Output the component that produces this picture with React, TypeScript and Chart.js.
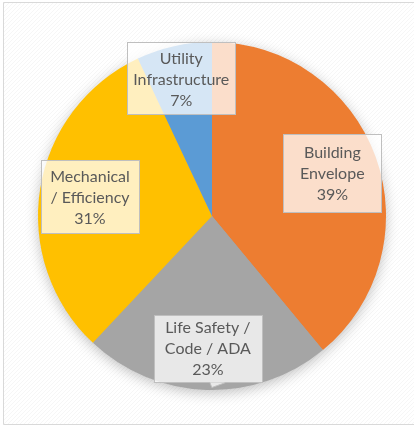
import React, { useEffect, useRef } from 'react';
import { Chart, registerables } from 'chart.js';

Chart.register(...registerables);

// ---- data ----
const categories = [
  'Building Envelope',
  'Life Safety / Code / ADA',
  'Mechanical / Efficiency',
  'Utility Infrastructure',
];
const labelLines = [
  ['Building', 'Envelope'],
  ['Life Safety /', 'Code / ADA'],
  ['Mechanical', '/ Efficiency'],
  ['Utility', 'Infrastructure'],
];
const values = [39, 23, 31, 7];

// ---- styles ----
const colors = ['#ED7D31', '#A5A5A5', '#FFC000', '#5B9BD5'];
const labelLayout = [
  { rf: 0.735, w: 98, h: 78 },
  { rf: 0.76, w: 108, h: 67 },
  { rf: 0.71, w: 98, h: 73 },
  { rf: 0.81, w: 108, h: 72 },
];
const FONT = '16px Lato, "Open Sans", sans-serif';
const TEXT_COLOR = '#595959';

const backgroundPlugin = {
  id: 'bgFrame',
  beforeDraw(chart: any) {
    const ctx = chart.ctx as CanvasRenderingContext2D;
    const { width, height } = chart;
    ctx.save();
    ctx.fillStyle = '#ffffff';
    ctx.fillRect(0, 0, width, height);
    // faint hatch
    const pc = document.createElement('canvas');
    pc.width = 4;
    pc.height = 4;
    const p = pc.getContext('2d')!;
    p.strokeStyle = 'rgba(0,0,0,0.035)';
    p.lineWidth = 1;
    p.beginPath();
    p.moveTo(0, 4);
    p.lineTo(4, 0);
    p.stroke();
    const pat = ctx.createPattern(pc, 'repeat');
    if (pat) {
      ctx.fillStyle = pat;
      ctx.fillRect(4, 3, width, height - 5);
    }
    // frame
    ctx.strokeStyle = '#D9D9D9';
    ctx.lineWidth = 1;
    ctx.beginPath();
    ctx.moveTo(width + 5, 2.5);
    ctx.lineTo(3.5, 2.5);
    ctx.lineTo(3.5, 424.5);
    ctx.lineTo(width + 5, 424.5);
    ctx.stroke();
    ctx.restore();
  },
  beforeDatasetsDraw(chart: any) {
    const meta = chart.getDatasetMeta(0);
    const arc = meta.data[0];
    if (!arc) return;
    const ctx = chart.ctx as CanvasRenderingContext2D;
    ctx.save();
    ctx.shadowColor = 'rgba(0,0,0,0.28)';
    ctx.shadowBlur = 14;
    ctx.shadowOffsetY = 3;
    ctx.fillStyle = '#A5A5A5';
    ctx.beginPath();
    ctx.arc(arc.x, arc.y, arc.outerRadius - 1, 0, Math.PI * 2);
    ctx.fill();
    ctx.restore();
  },
};

const labelPlugin = {
  id: 'boxLabels',
  afterDatasetsDraw(chart: any) {
    const ctx = chart.ctx as CanvasRenderingContext2D;
    const meta = chart.getDatasetMeta(0);
    const total = values.reduce((a, b) => a + b, 0);
    meta.data.forEach((arc: any, i: number) => {
      const mid = (arc.startAngle + arc.endAngle) / 2;
      const lay = labelLayout[i];
      const r = arc.outerRadius * lay.rf;
      const cx = arc.x + Math.cos(mid) * r;
      const cy = arc.y + Math.sin(mid) * r;
      const x0 = Math.round(cx - lay.w / 2) + 0.5;
      const y0 = Math.round(cy - lay.h / 2) + 0.5;
      ctx.save();
      ctx.fillStyle = 'rgba(255,255,255,0.75)';
      ctx.fillRect(x0, y0, lay.w, lay.h);
      ctx.strokeStyle = '#BFBFBF';
      ctx.lineWidth = 1;
      ctx.strokeRect(x0, y0, lay.w, lay.h);
      if (i === 1) {
        // small callout pointer
        const by = y0 + lay.h;
        ctx.beginPath();
        ctx.moveTo(cx + 2, by);
        ctx.lineTo(cx + 4, by + 5);
        ctx.lineTo(cx + 18, by);
        ctx.closePath();
        ctx.fillStyle = 'rgba(255,255,255,0.75)';
        ctx.fill();
        ctx.beginPath();
        ctx.moveTo(cx + 2, by);
        ctx.lineTo(cx + 4, by + 5);
        ctx.lineTo(cx + 18, by);
        ctx.stroke();
      }
      const lines = [...labelLines[i], Math.round((values[i] / total) * 100) + '%'];
      ctx.fillStyle = TEXT_COLOR;
      ctx.font = FONT;
      ctx.textAlign = 'center';
      ctx.textBaseline = 'middle';
      const lh = 21;
      lines.forEach((t, k) => {
        ctx.fillText(t, cx, cy + (k - 1) * lh + 1);
      });
      ctx.restore();
    });
  },
};

export default function App() {
  const ref = useRef<HTMLCanvasElement>(null);
  useEffect(() => {
    if (!ref.current) return;
    const chart = new Chart(ref.current, {
      type: 'pie',
      data: {
        labels: categories,
        datasets: [
          {
            data: values,
            backgroundColor: colors,
            borderWidth: 0,
          },
        ],
      },
      options: {
        animation: false,
        responsive: true,
        maintainAspectRatio: false,
        layout: { padding: { left: 38, right: 28, top: 42, bottom: 36 } },
        plugins: {
          legend: { display: false },
          tooltip: { enabled: false },
          title: { display: false },
        },
      },
      plugins: [backgroundPlugin, labelPlugin],
    });
    return () => chart.destroy();
  }, []);
  return (
    <div
      style={{
        position: 'absolute',
        left: 0,
        top: 0,
        width: 414,
        height: 426,
        overflow: 'hidden',
      }}
    >
      <canvas ref={ref} style={{ display: 'block' }} />
    </div>
  );
}
